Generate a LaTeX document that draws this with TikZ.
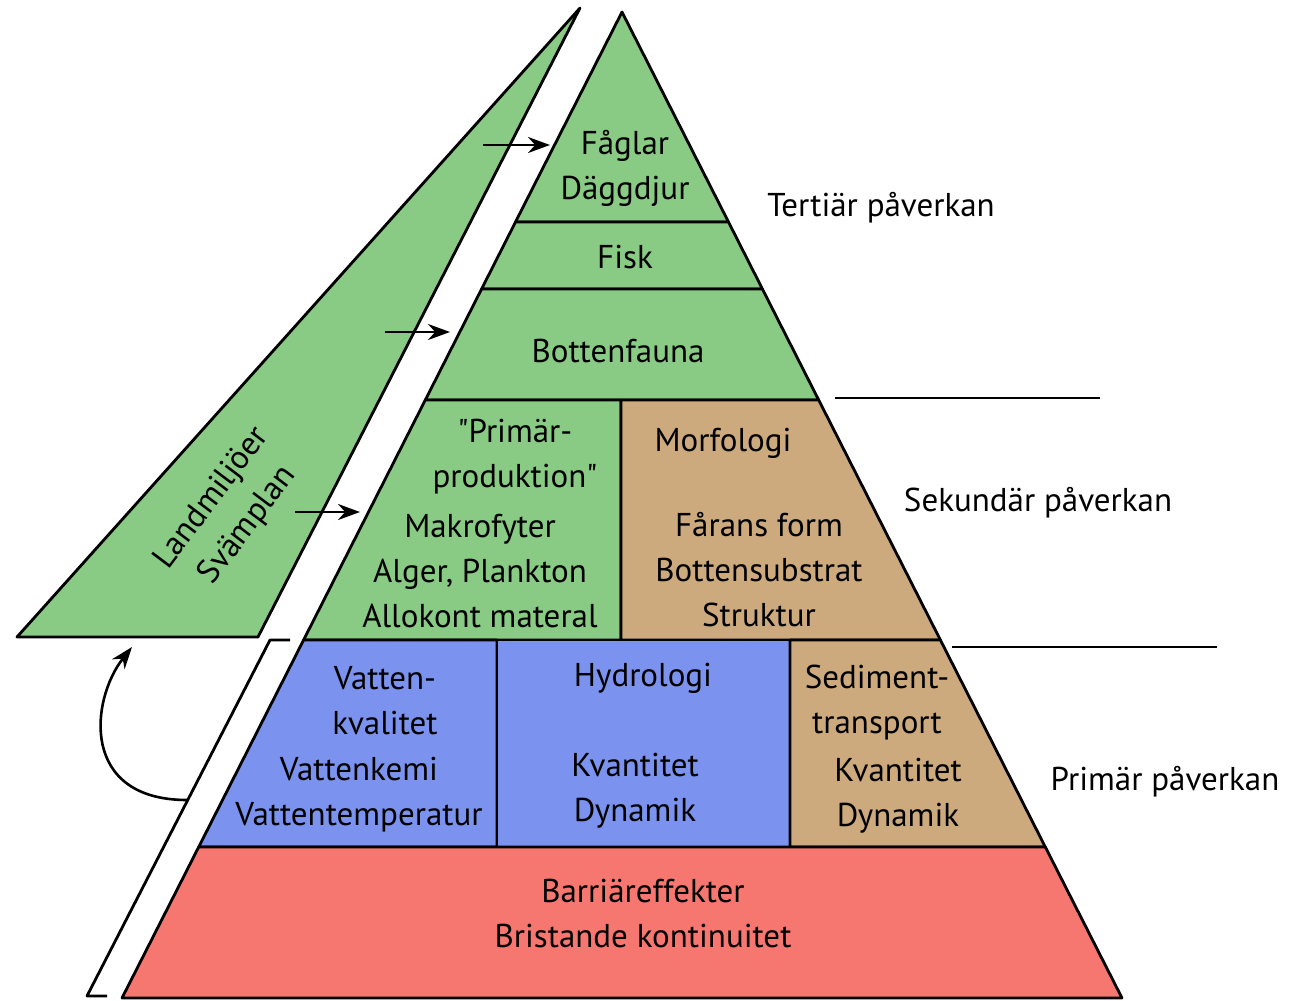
\documentclass[tikz,border=0pt]{standalone}
\usepackage{fontspec}
\setmainfont{PT Sans}[Ligatures=TeXOff]
\usetikzlibrary{arrows.meta}

\definecolor{lvlgreen}{RGB}{137,203,132}
\definecolor{lvltan}{RGB}{205,170,125}
\definecolor{lvlblue}{RGB}{123,147,238}
\definecolor{lvlred}{RGB}{246,118,112}

\begin{document}
\begin{tikzpicture}[x=0.5pt, y=-0.5pt, line width=1.4pt, line join=round,
    every node/.style={font=\fontsize{16.5}{22.5}\selectfont, align=center, inner sep=0pt},
    part/.style={draw=black},
    flow/.style={-{Stealth[length=11pt,width=8pt]}, line width=1.3pt}]
    \useasboundingbox (0,0) rectangle (1291,1001);

    % land side
    \filldraw[part, fill=lvlgreen] (580,8) -- (17,637) -- (258,637) -- cycle;
    \draw (290,640) -- (270,640) -- (87,996) -- (107,996);

    % pyramid
    \filldraw[part, fill=lvlgreen] (622,12) -- (515.5,222) -- (728.5,222) -- cycle;
    \filldraw[part, fill=lvlgreen] (515.5,222) -- (481.6,289) -- (762.4,289) -- (728.5,222) -- cycle;
    \filldraw[part, fill=lvlgreen] (481.6,289) -- (425.3,400) -- (818.7,400) -- (762.4,289) -- cycle;
    \filldraw[part, fill=lvlgreen] (425.3,400) -- (303.6,640) -- (621,640) -- (621,400) -- cycle;
    \filldraw[part, fill=lvltan] (621,400) -- (621,640) -- (940.4,640) -- (818.7,400) -- cycle;
    \filldraw[part, fill=lvlblue] (303.6,640) -- (198.7,847) -- (497,847) -- (497,640) -- cycle;
    \filldraw[part, fill=lvlblue] (497,640) rectangle (790,847);
    \filldraw[part, fill=lvltan] (790,640) -- (790,847) -- (1045.3,847) -- (940.4,640) -- cycle;
    \filldraw[part, fill=lvlred] (198.7,847) -- (122,998) -- (1122,998) -- (1045.3,847) -- cycle;

    \draw (835,398) -- (1100,398);
    \draw (952,647) -- (1217,647);

    % labels
    \node (birds) at (625,168) {Fåglar\\Däggdjur};
    \node (fish) at (625,257) {Fisk};
    \node (benthos) at (618,351) {Bottenfauna};
    \node (primtitle) at (515,457) {"Primär-\\produktion"};
    \node (primlist) at (480,571) {Makrofyter\\Alger, Plankton\\Allokont materal};
    \node (morph) at (723,443) {Morfologi};
    \node (morphlist) at (759,570) {Fårans form\\Bottensubstrat\\Struktur};
    \node (wqtitle) at (385,701) {Vatten-\\kvalitet};
    \node (wqlist) at (359,795) {Vattenkemi\\Vattentemperatur};
    \node (hydro) at (643,678) {Hydrologi};
    \node (hydrolist) at (635,791) {Kvantitet\\Dynamik};
    \node (sedtitle) at (877,703) {Sediment-\\transport};
    \node (sedlist) at (898,796) {Kvantitet\\Dynamik};
    \node (barrier) at (643,914) {Barriäreffekter\\Bristande kontinuitet};
    \node[rotate=53] (land) at (230,512) {Landmiljöer\\Svämplan};

    \node (tert) at (881,208) {Tertiär påverkan};
    \node (sek) at (1038,503) {Sekundär påverkan};
    \node (prim) at (1165,782) {Primär påverkan};

    % arrows
    \coordinate (birdsout) at (483,145);
    \coordinate (birdsin) at (550,145);
    \coordinate (benthosout) at (385,332);
    \coordinate (benthosin) at (450,332);
    \coordinate (primout) at (295,512);
    \coordinate (primin) at (360,512);
    \coordinate (bracketmid) at (187,800);
    \coordinate (landbase) at (132,647);
    \draw[flow] (birdsout) -- (birdsin);
    \draw[flow] (benthosout) -- (benthosin);
    \draw[flow] (primout) -- (primin);
    \draw[flow] (bracketmid) .. controls (80,800) and (90,700) .. (landbase);
\end{tikzpicture}
\end{document}
